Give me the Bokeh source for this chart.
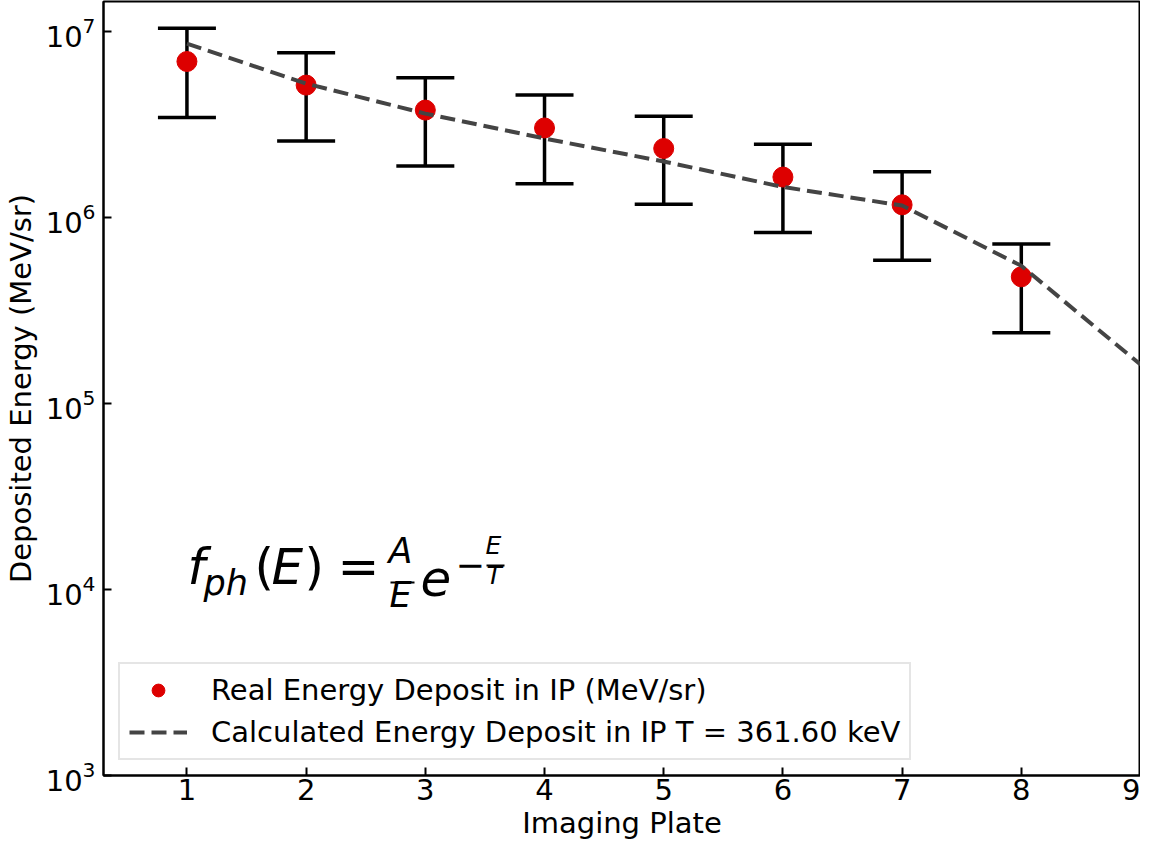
from bokeh.embed import file_html
from bokeh.resources import INLINE
from bokeh.models import (ColumnDataSource, Whisker, TeeHead, Range1d, FixedTicker,
                          Label, BoxAnnotation, Legend)
from bokeh.plotting import figure

# imaging plates and measured deposit (MeV/sr)
plates = [1, 2, 3, 4, 5, 6, 7, 8]
deposit = [6.9e6, 5.15e6, 3.78e6, 3.03e6, 2.35e6, 1.65e6, 1.17e6, 4.8e5]
deposit_hi = [1.04e7, 7.7e6, 5.65e6, 4.55e6, 3.5e6, 2.48e6, 1.76e6, 7.2e5]
deposit_lo = [3.45e6, 2.58e6, 1.89e6, 1.52e6, 1.18e6, 8.3e5, 5.9e5, 2.4e5]

# calculated deposit, T = 361.60 keV
calc_plates = [1, 2, 3, 4, 5, 6, 7, 8, 9]
calc_deposit = [8.6e6, 5.25e6, 3.62e6, 2.66e6, 2.0e6, 1.46e6, 1.16e6, 5.5e5, 1.62e5]

y_ticks = [1e3, 1e4, 1e5, 1e6, 1e7]

FONT = "DejaVu Sans"

p = figure(width=1140, height=845, y_axis_type="log",
           x_range=Range1d(0.3, 9), y_range=Range1d(1e3, 1.45e7),
           output_backend="svg", toolbar_location=None,
           min_border_left=95, min_border_right=0, min_border_top=1, min_border_bottom=70)

p.grid.visible = False
p.outline_line_color = "black"
p.outline_line_width = 2

src = ColumnDataSource(data=dict(x=plates, y=deposit, upper=deposit_hi, lower=deposit_lo))
err = Whisker(source=src, base="x", upper="upper", lower="lower",
              line_color="black", line_width=3.5,
              upper_head=TeeHead(size=58, line_color="black", line_width=3.5),
              lower_head=TeeHead(size=58, line_color="black", line_width=3.5))
p.add_layout(err)

pts = p.scatter("x", "y", source=src, size=20, color="#dd0000")
calc = p.line(calc_plates, calc_deposit, line_color="#444444", line_width=4, line_dash="15 7")

legend = Legend(items=[("Real Energy Deposit in IP (MeV/sr)", [pts]),
                       ("Calculated Energy Deposit in IP T = 361.60 keV", [calc])],
                location=(15, 15), margin=0, padding=9, spacing=8,
                glyph_width=58, glyph_height=32, label_height=32, label_standoff=24,
                label_text_font=FONT, label_text_font_size="29px", label_text_color="black",
                border_line_color="#cccccc", border_line_width=2,
                background_fill_alpha=0.8)
p.add_layout(legend)

for ax in (p.xaxis, p.yaxis):
    ax.axis_line_color = "black"
    ax.axis_line_width = 2
    ax.major_tick_in = 8
    ax.major_tick_out = 0
    ax.major_tick_line_width = 2
    ax.minor_tick_line_color = None
    ax.major_label_text_font = FONT
    ax.major_label_text_font_size = "29px"
    ax.major_label_text_color = "black"
    ax.axis_label_text_font = FONT
    ax.axis_label_text_font_size = "29px"
    ax.axis_label_text_font_style = "normal"
    ax.axis_label_text_color = "black"

p.xaxis.ticker = FixedTicker(ticks=calc_plates)
p.yaxis.ticker = FixedTicker(ticks=y_ticks)
p.xaxis.major_label_standoff = 3
p.yaxis.major_label_standoff = 8
p.xaxis.axis_label = "Imaging Plate"
p.yaxis.axis_label = "Deposited Energy (MeV/sr)"
p.xaxis.axis_label_standoff = 3
p.yaxis.axis_label_standoff = 5

# formula  f_ph(E) = A/E e^(-E/T), placed in screen units relative to the frame
def put(text, x, y, size, italic=True):
    p.add_layout(Label(x=x, y=y, x_units="screen", y_units="screen", text=text,
                       text_font=FONT, text_font_size=size,
                       text_font_style="italic" if italic else "normal",
                       text_color="black"))

def bar(x0, x1, y):
    p.add_layout(BoxAnnotation(left=x0, right=x1, bottom=y - 1, top=y + 1,
                               left_units="screen", right_units="screen",
                               bottom_units="screen", top_units="screen",
                               fill_color="black", fill_alpha=1, line_color=None))

put("f", 84, 180, "50px")
put("ph", 100, 173, "35px")
put("(", 151, 180, "50px", italic=False)
put("E", 168, 180, "50px")
put(")", 201, 180, "50px", italic=False)
put("=", 234, 180, "50px", italic=False)
put("A", 285, 205, "35px")
bar(287, 311, 193)
put("E", 286, 161, "35px")
put("e", 317, 180, "50px")
put("\u2212", 352, 199, "35px", italic=False)
put("E", 382, 216, "25px")
bar(383, 401, 210)
put("T", 383, 186, "25px")

open("out.html", "w").write(file_html(p, INLINE))
